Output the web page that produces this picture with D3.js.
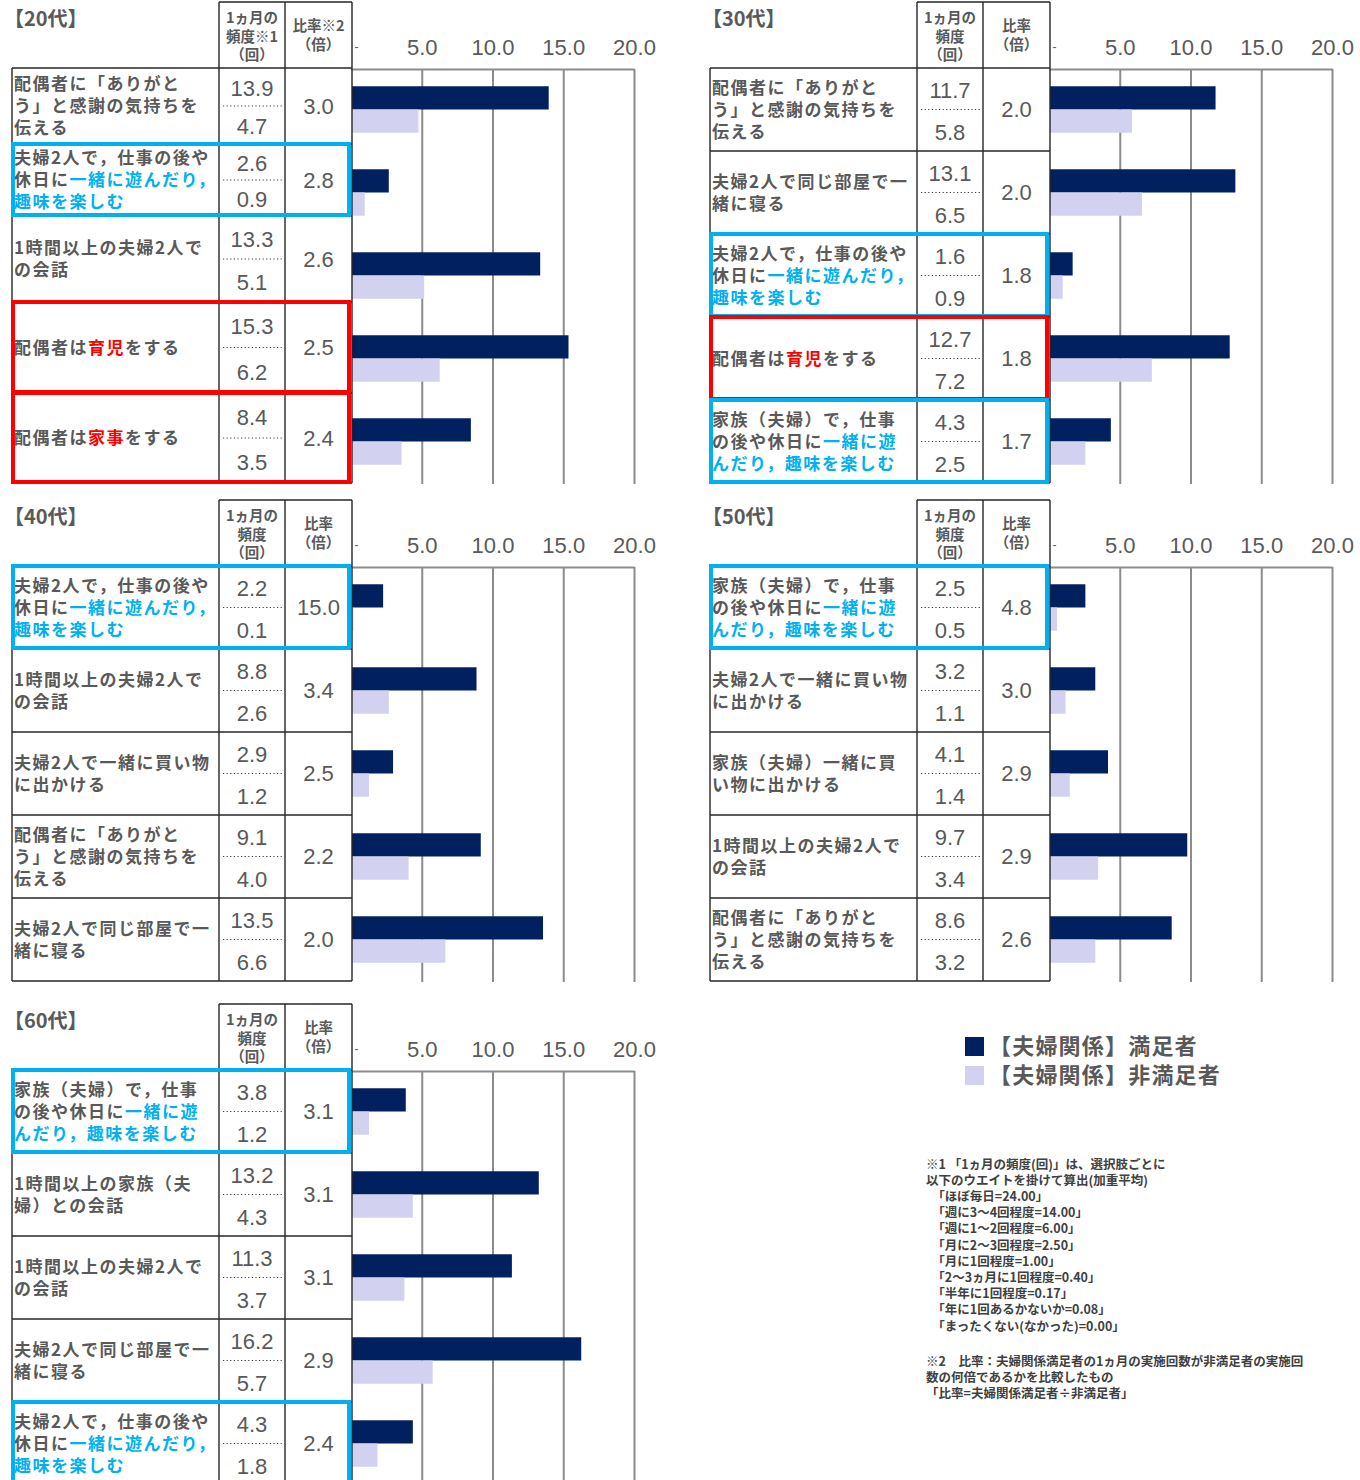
<!DOCTYPE html>
<html lang="ja">
<head>
<meta charset="UTF-8">
<title>夫婦関係 満足者・非満足者 1ヵ月の頻度</title>
<script src="https://d3js.org/d3.v7.min.js"></script>
<style>
  body { margin: 0; background: #fff; }
  svg text { fill: #595959; }
  .jp { font-family: "Noto Sans CJK JP", sans-serif; font-weight: bold; }
  .num { font-family: "Liberation Sans", Arial, sans-serif; }
  .grid .tick line { stroke: #8c8c8c; stroke-width: 2px; }
  .grid .domain { stroke: #8c8c8c; stroke-width: 2px; }
  .tbl line { stroke: #262626; stroke-width: 1.4px; }
</style>
</head>
<body>
<svg id="chart" width="1360" height="1480"></svg>
<script>
// ---- data ----
// [[...]] = text drawn in the highlight colour of the row
var ages = ["【20代】", "【30代】", "【40代】", "【50代】", "【60代】"];

var labels20 = ["配偶者に「ありがと\nう」と感謝の気持ちを\n伝える",
                "夫婦2人で，仕事の後や\n休日に[[一緒に遊んだり，]]\n[[趣味を楽しむ]]",
                "1時間以上の夫婦2人で\nの会話",
                "配偶者は[[育児]]をする",
                "配偶者は[[家事]]をする"];
var sat20   = [13.9, 2.6, 13.3, 15.3, 8.4];
var unsat20 = [4.7, 0.9, 5.1, 6.2, 3.5];
var ratio20 = [3.0, 2.8, 2.6, 2.5, 2.4];
var mark20  = [null, "blue", null, "red", "red"];

var labels30 = ["配偶者に「ありがと\nう」と感謝の気持ちを\n伝える",
                "夫婦2人で同じ部屋で一\n緒に寝る",
                "夫婦2人で，仕事の後や\n休日に[[一緒に遊んだり，]]\n[[趣味を楽しむ]]",
                "配偶者は[[育児]]をする",
                "家族（夫婦）で，仕事\nの後や休日に[[一緒に遊]]\n[[んだり，趣味を楽しむ]]"];
var sat30   = [11.7, 13.1, 1.6, 12.7, 4.3];
var unsat30 = [5.8, 6.5, 0.9, 7.2, 2.5];
var ratio30 = [2.0, 2.0, 1.8, 1.8, 1.7];
var mark30  = [null, null, "blue", "red", "blue"];

var labels40 = ["夫婦2人で，仕事の後や\n休日に[[一緒に遊んだり，]]\n[[趣味を楽しむ]]",
                "1時間以上の夫婦2人で\nの会話",
                "夫婦2人で一緒に買い物\nに出かける",
                "配偶者に「ありがと\nう」と感謝の気持ちを\n伝える",
                "夫婦2人で同じ部屋で一\n緒に寝る"];
var sat40   = [2.2, 8.8, 2.9, 9.1, 13.5];
var unsat40 = [0.1, 2.6, 1.2, 4.0, 6.6];
var ratio40 = [15.0, 3.4, 2.5, 2.2, 2.0];
var mark40  = ["blue", null, null, null, null];

var labels50 = ["家族（夫婦）で，仕事\nの後や休日に[[一緒に遊]]\n[[んだり，趣味を楽しむ]]",
                "夫婦2人で一緒に買い物\nに出かける",
                "家族（夫婦）一緒に買\nい物に出かける",
                "1時間以上の夫婦2人で\nの会話",
                "配偶者に「ありがと\nう」と感謝の気持ちを\n伝える"];
var sat50   = [2.5, 3.2, 4.1, 9.7, 8.6];
var unsat50 = [0.5, 1.1, 1.4, 3.4, 3.2];
var ratio50 = [4.8, 3.0, 2.9, 2.9, 2.6];
var mark50  = ["blue", null, null, null, null];

var labels60 = ["家族（夫婦）で，仕事\nの後や休日に[[一緒に遊]]\n[[んだり，趣味を楽しむ]]",
                "1時間以上の家族（夫\n婦）との会話",
                "1時間以上の夫婦2人で\nの会話",
                "夫婦2人で同じ部屋で一\n緒に寝る",
                "夫婦2人で，仕事の後や\n休日に[[一緒に遊んだり，]]\n[[趣味を楽しむ]]"];
var sat60   = [3.8, 13.2, 11.3, 16.2, 4.3];
var unsat60 = [1.2, 4.3, 3.7, 5.7, 1.8];
var ratio60 = [3.1, 3.1, 3.1, 2.9, 2.4];
var mark60  = ["blue", null, null, null, "blue"];

var series = ["【夫婦関係】満足者", "【夫婦関係】非満足者"];
var tickValues = [0, 5, 10, 15, 20];
var tickLabels = ["-", "5.0", "10.0", "15.0", "20.0"];

var freqHead20  = ["1ヵ月の", "頻度※1", "（回）"];
var ratioHead20 = ["比率※2", "（倍）"];
var freqHead  = ["1ヵ月の", "頻度", "（回）"];
var ratioHead = ["比率", "（倍）"];

var notes = ["※1 「1ヵ月の頻度(回)」は、選択肢ごとに",
             "以下のウエイトを掛けて算出(加重平均)",
             "　「ほぼ毎日=24.00」",
             "　「週に3～4回程度=14.00」",
             "　「週に1～2回程度=6.00」",
             "　「月に2～3回程度=2.50」",
             "　「月に1回程度=1.00」",
             "　「2～3ヵ月に1回程度=0.40」",
             "　「半年に1回程度=0.17」",
             "　「年に1回あるかないか=0.08」",
             "　「まったくない(なかった)=0.00」",
             "",
             "※2　比率：夫婦関係満足者の1ヵ月の実施回数が非満足者の実施回",
             "数の何倍であるかを比較したもの",
             "「比率=夫婦関係満足者÷非満足者」"];

// ---- layout ----
var colors = ["#002060", "#d2d2f0"];
var markColor = { blue: "#00b0f0", red: "#ff0000" };

var panels = [
  { title: ages[0], labels: labels20, sat: sat20, unsat: unsat20, ratio: ratio20, mark: mark20,
    fh: freqHead20, rh: ratioHead20, x: 0, y: 2, rows: [76, 72, 86, 91, 90] },
  { title: ages[1], labels: labels30, sat: sat30, unsat: unsat30, ratio: ratio30, mark: mark30,
    fh: freqHead, rh: ratioHead, x: 698, y: 2 },
  { title: ages[2], labels: labels40, sat: sat40, unsat: unsat40, ratio: ratio40, mark: mark40,
    fh: freqHead, rh: ratioHead, x: 0, y: 500 },
  { title: ages[3], labels: labels50, sat: sat50, unsat: unsat50, ratio: ratio50, mark: mark50,
    fh: freqHead, rh: ratioHead, x: 698, y: 500 },
  { title: ages[4], labels: labels60, sat: sat60, unsat: unsat60, ratio: ratio60, mark: mark60,
    fh: freqHead, rh: ratioHead, x: 0, y: 1004 }
];

var colL = 12, colF = 219, colR = 285, colC = 352;
var headH = 66, rowH = 83, nRows = 5;
var fmt = d3.format(".1f");

var svg = d3.select("#chart");

var x = d3.scaleLinear().domain([0, 20]).range([351, 634]);

panels.forEach(function(p) {
  var g = svg.append("g").attr("transform", "translate(" + p.x + "," + p.y + ")");
  var top = headH, tableH = rowH * nRows;

  // row geometry
  var hs = p.rows || d3.range(nRows).map(function() { return rowH; });
  var rows = [], acc = top;
  hs.forEach(function(h) { rows.push({ y: acc, h: h }); acc += h; });

  // bars
  var y = d3.scaleBand().domain(d3.range(nRows))
      .range([top, top + tableH]).paddingInner(0.44).paddingOuter(0.22);
  var ys = d3.scaleBand().domain([0, 1]).range([0, y.bandwidth()]);

  var grid = g.append("g").attr("class", "grid")
      .attr("transform", "translate(0," + (top + 1) + ")")
      .call(d3.axisTop(x).tickValues(tickValues).tickSize(-tableH).tickSizeOuter(0)
        .tickPadding(14).tickFormat(function(d, i) { return tickLabels[i]; }));
  grid.selectAll(".tick text").attr("class", "num").style("font-size", "22px").attr("fill", "#595959");
  grid.selectAll(".tick").filter(function(d) { return d === 0; })
      .select("text").style("font-size", "12px").attr("x", 5).attr("dy", "-0.3em");
  grid.selectAll(".tick").filter(function(d) { return d === 0; }).select("line").remove();

  var bars = g.append("g");
  p.sat.forEach(function(v, i) {
    [v, p.unsat[i]].forEach(function(val, s) {
      bars.append("rect")
        .attr("x", x(0) + 1)
        .attr("y", y(i) + ys(s))
        .attr("width", x(val) - x(0))
        .attr("height", ys.bandwidth())
        .attr("fill", colors[s]);
    });
  });

  // title
  g.append("text").attr("class", "jp").attr("x", 4).attr("y", 17).attr("dy", "0.35em")
    .style("font-size", "20px").text(p.title);

  // header
  var tb = g.append("g").attr("class", "tbl");
  [colF, colR, colC].forEach(function(cx) {
    tb.append("line").attr("x1", cx).attr("x2", cx).attr("y1", 0).attr("y2", top);
  });
  tb.append("line").attr("x1", colF).attr("x2", colC).attr("y1", 0).attr("y2", 0);
  var fy = [16, 34.5, 53], ry = [24, 42.5];
  p.fh.forEach(function(t, i) {
    g.append("text").attr("class", "jp").attr("x", (colF + colR) / 2).attr("y", fy[i])
      .attr("dy", "0.35em").attr("text-anchor", "middle").style("font-size", "14.5px").text(t);
  });
  p.rh.forEach(function(t, i) {
    g.append("text").attr("class", "jp").attr("x", (colR + colC) / 2).attr("y", ry[i])
      .attr("dy", "0.35em").attr("text-anchor", "middle").style("font-size", "14.5px").text(t);
  });

  // table body
  [colL, colF, colR, colC].forEach(function(cx) {
    tb.append("line").attr("x1", cx).attr("x2", cx).attr("y1", top).attr("y2", top + tableH);
  });
  rows.forEach(function(r) {
    tb.append("line").attr("x1", colL).attr("x2", colC).attr("y1", r.y).attr("y2", r.y);
  });
  tb.append("line").attr("x1", colL).attr("x2", colC).attr("y1", top + tableH).attr("y2", top + tableH);

  rows.forEach(function(r, i) {
    var mc = markColor[p.mark[i]];
    // label
    var lines = p.labels[i].split("\n");
    var cy = r.y + r.h / 2;
    lines.forEach(function(line, k) {
      var t = g.append("text").attr("class", "jp").attr("x", 14)
        .attr("y", cy + (k - (lines.length - 1) / 2) * 22).attr("dy", "0.36em")
        .style("font-size", "17px").style("letter-spacing", "1.5px");
      line.split(/(\[\[.*?\]\])/).forEach(function(seg) {
        if (!seg) return;
        var hot = seg.indexOf("[[") === 0;
        var ts = t.append("tspan").text(hot ? seg.slice(2, -2) : seg);
        if (hot) ts.style("fill", mc);
      });
    });
    // frequencies
    var fx = (colF + colR) / 2;
    g.append("text").attr("class", "num").attr("x", fx).attr("y", r.y + r.h * 0.27)
      .attr("dy", "0.36em").attr("text-anchor", "middle").style("font-size", "22px").text(fmt(p.sat[i]));
    g.append("text").attr("class", "num").attr("x", fx).attr("y", r.y + r.h * 0.77)
      .attr("dy", "0.36em").attr("text-anchor", "middle").style("font-size", "22px").text(fmt(p.unsat[i]));
    g.append("line").attr("x1", colF + 4).attr("x2", colR - 3)
      .attr("y1", r.y + r.h * 0.5).attr("y2", r.y + r.h * 0.5)
      .attr("stroke", "#404040").attr("stroke-width", 1.2).attr("stroke-dasharray", "1.2 2.4");
    g.append("text").attr("class", "num").attr("x", (colR + colC) / 2).attr("y", cy)
      .attr("dy", "0.36em").attr("text-anchor", "middle").style("font-size", "22px").text(fmt(p.ratio[i]));
    // highlight box
    if (mc) {
      g.append("rect").attr("x", colL + 1).attr("y", r.y).attr("width", colC - colL - 4)
        .attr("height", r.h - 1).attr("fill", "none").attr("stroke", mc).attr("stroke-width", 4);
    }
  });
});

// legend
var lg = svg.append("g").attr("transform", "translate(965,1036)");
series.forEach(function(s, i) {
  lg.append("rect").attr("x", 0).attr("y", i * 29 + 1).attr("width", 19).attr("height", 19).attr("fill", colors[i]);
  lg.append("text").attr("class", "jp").attr("x", 24).attr("y", i * 29 + 10).attr("dy", "0.36em")
    .style("font-size", "22px").style("letter-spacing", "1.2px").text(s);
});

// footnotes
var nt = svg.append("g").attr("transform", "translate(926,1164)");
notes.forEach(function(t, i) {
  nt.append("text").attr("class", "jp").attr("x", 0).attr("y", i * 16.2 + (i > 11 ? 3 : 0)).attr("dy", "0.36em")
    .style("font-size", "12.5px").style("fill", "#404040").text(t);
});
</script>
</body>
</html>
